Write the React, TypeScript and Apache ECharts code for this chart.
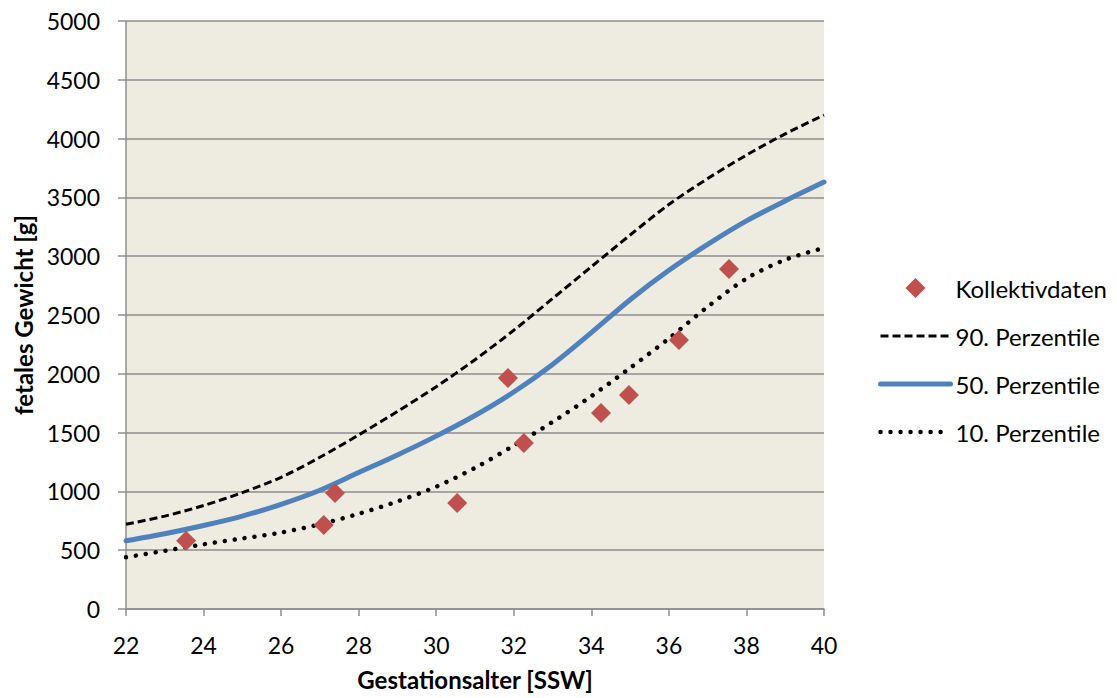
import React, { useEffect, useRef } from "react";
import * as echarts from "echarts";

const weeks = [22, 23, 24, 25, 26, 27, 28, 29, 30, 31, 32, 33, 34, 35, 36, 37, 38, 39, 40];
const p90 = [720, 790, 880, 990, 1120, 1290, 1480, 1680, 1890, 2120, 2370, 2640, 2910, 3180, 3440, 3660, 3860, 4040, 4200];
const p50 = [580, 640, 710, 790, 890, 1010, 1160, 1310, 1470, 1645, 1845, 2080, 2350, 2630, 2880, 3100, 3300, 3470, 3630];
const p10 = [440, 495, 550, 600, 650, 720, 810, 915, 1040, 1200, 1390, 1590, 1810, 2050, 2300, 2570, 2810, 2970, 3070];
const kollektivX = [23.55, 27.1, 27.39, 30.54, 31.85, 32.26, 34.25, 34.97, 36.26, 37.55];
const kollektivY = [580, 714, 986, 901, 1964, 1412, 1667, 1820, 2287, 2891];
const legendNames = ["Kollektivdaten", "90. Perzentile", "50. Perzentile", "10. Perzentile"];
const yTicks = [0, 500, 1000, 1500, 2000, 2500, 3000, 3500, 4000, 4500, 5000];

const FONT = "Lato, 'Open Sans', sans-serif";
const DIAMOND_ICON = "path://M35,0 L45,10 L35,20 L25,10 Z M0,10 L0.01,10 L0,10 Z M70,10 L69.99,10 L70,10 Z";

export default function App() {
  const ref = useRef<HTMLDivElement>(null);
  useEffect(() => {
    if (!ref.current) return;
    const chart = echarts.init(ref.current, undefined, { renderer: "svg" });
    const pairs = (ys: number[]) => weeks.map((w, i) => [w, ys[i]]);
    const gridColor = "#8E8E8E";
    const dash90 = { color: "#000", width: 3, type: [8, 4] };
    const line50 = { color: "#4F81BD", width: 5, cap: "round" };
    const dot10 = { color: "#000", width: 4.5, type: [0.01, 10], cap: "round" };
    chart.setOption({
      animation: false,
      textStyle: { fontFamily: FONT },
      grid: {
        left: 126,
        right: 293,
        top: 21,
        bottom: 89,
        show: true,
        backgroundColor: "#EEEBE0",
        borderWidth: 0,
      },
      legend: {
        orient: "vertical",
        left: 878,
        top: 274,
        padding: 0,
        itemWidth: 70,
        itemHeight: 20,
        itemGap: 20,
        textStyle: { fontFamily: FONT, fontSize: 24, color: "#000", lineHeight: 28 },
        data: [
          { name: legendNames[0], icon: DIAMOND_ICON, itemStyle: { color: "#C0504D", opacity: 1 } },
          { name: legendNames[1], lineStyle: dash90 },
          { name: legendNames[2], lineStyle: line50 },
          { name: legendNames[3], lineStyle: dot10 },
        ],
      },
      xAxis: {
        type: "value",
        min: 22,
        max: 40,
        interval: 2,
        name: "Gestationsalter [SSW]",
        nameLocation: "middle",
        nameGap: 58,
        nameTextStyle: { fontFamily: FONT, fontSize: 24, fontWeight: "bold", color: "#000" },
        axisLine: { show: true, lineStyle: { color: gridColor, width: 1.5 } },
        axisTick: { show: true, length: 7, lineStyle: { color: gridColor, width: 1.5 } },
        axisLabel: { fontFamily: FONT, fontSize: 23, color: "#000", margin: 24 },
        splitLine: { show: false },
      },
      yAxis: {
        type: "value",
        min: yTicks[0],
        max: yTicks[yTicks.length - 1],
        interval: 500,
        name: "fetales Gewicht [g]",
        nameLocation: "middle",
        nameGap: 88,
        nameTextStyle: { fontFamily: FONT, fontSize: 24, fontWeight: "bold", color: "#000" },
        axisLine: { show: true, lineStyle: { color: gridColor, width: 1.5 } },
        axisTick: { show: true, length: 8, lineStyle: { color: gridColor, width: 1.5 } },
        axisLabel: {
          fontFamily: FONT,
          fontSize: 23,
          color: "#000",
          margin: 26,
          formatter: (v: number) => String(v),
        },
        splitLine: { show: true, lineStyle: { color: gridColor, width: 1.5 } },
      },
      series: [
        {
          name: legendNames[0],
          type: "scatter",
          symbol: "diamond",
          symbolSize: 20,
          itemStyle: { color: "#C0504D", opacity: 1 },
          data: kollektivX.map((x, i) => [x, kollektivY[i]]),
          z: 5,
        },
        {
          name: legendNames[1],
          type: "line",
          smooth: 0.3,
          symbol: "none",
          itemStyle: { color: "#000", opacity: 0 },
          lineStyle: dash90,
          data: pairs(p90),
        },
        {
          name: legendNames[2],
          type: "line",
          smooth: 0.3,
          symbol: "none",
          itemStyle: { color: "#4F81BD", opacity: 0 },
          lineStyle: line50,
          data: pairs(p50),
        },
        {
          name: legendNames[3],
          type: "line",
          smooth: 0.3,
          symbol: "none",
          itemStyle: { color: "#000", opacity: 0 },
          lineStyle: dot10,
          data: pairs(p10),
        },
      ],
    });
    return () => chart.dispose();
  }, []);
  return (
    <div
      ref={ref}
      style={{ position: "absolute", left: 0, top: 0, width: 1117, height: 698, background: "#fff" }}
    />
  );
}
